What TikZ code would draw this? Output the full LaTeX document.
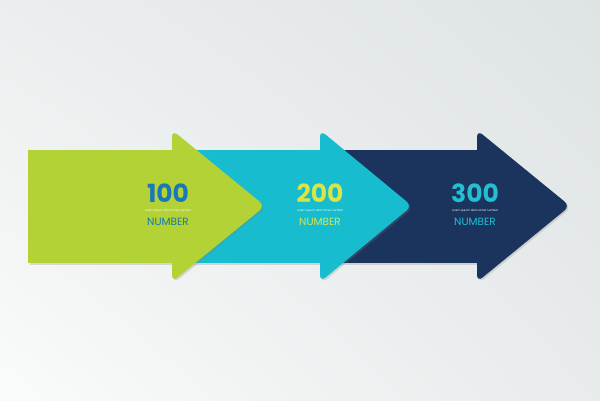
\documentclass[tikz,border=0pt]{standalone}
\usepackage{fontspec}
\setmainfont{Poppins}
\usetikzlibrary{shadows,shadings}

\definecolor{bgtop}{RGB}{222,227,227}
\definecolor{bgbot}{RGB}{250,251,251}
\definecolor{limegreen}{RGB}{178,210,53}
\definecolor{skycyan}{RGB}{23,188,207}
\definecolor{deepnavy}{RGB}{27,52,94}
\definecolor{numblue}{RGB}{26,120,185}
\definecolor{numlime}{RGB}{215,230,70}
\definecolor{numcyan}{RGB}{35,190,210}

\tikzset{
  arrowshape/.style={draw=none,drop shadow={shadow xshift=1.5pt,shadow yshift=-1.5pt,opacity=0.25}},
  bignum/.style={font=\fontsize{25}{25}\selectfont\bfseries,inner sep=0pt},
  smalltxt/.style={font=\fontsize{2.8}{3}\selectfont,text=white,inner sep=0pt},
  numlabel/.style={font=\fontsize{10.5}{11}\selectfont,inner sep=0pt}
}

\begin{document}
\begin{tikzpicture}[x=1pt,y=-1pt]

	% background
	\shade[upper left=bgtop!60!white,upper right=bgtop,lower left=bgbot,lower right=bgtop!70!white] (0,0) rectangle (600,400);
	\useasboundingbox (0,0) rectangle (600,400);

	% third arrow
	\path[arrowshape,fill=deepnavy] (330,150) rectangle (480,263);
	\path[arrowshape,fill=deepnavy,rounded corners=7pt] (477,206) -- (477,130) -- (570,206) -- (477,282) -- cycle;
	\node[bignum,text=numcyan] (num3) at (475,193) {300};
	\node[smalltxt] (sub3) at (475,211) {Lorem ipsum dolor amet number};
	\node[numlabel,text=numcyan] (lab3) at (475,222) {NUMBER};

	% second arrow
	\path[arrowshape,fill=skycyan] (180,150) rectangle (323,263);
	\path[arrowshape,fill=skycyan,rounded corners=7pt] (320,206) -- (320,130) -- (412,206) -- (320,282) -- cycle;
	\node[bignum,text=numlime] (num2) at (320,193) {200};
	\node[smalltxt] (sub2) at (320,211) {Lorem ipsum dolor amet number};
	\node[numlabel,text=numlime] (lab2) at (320,222) {NUMBER};

	% first arrow
	\path[arrowshape,fill=limegreen] (28,150) rectangle (175,263);
	\path[arrowshape,fill=limegreen,rounded corners=7pt] (172,206) -- (172,130) -- (265,206) -- (172,282) -- cycle;
	\node[bignum,text=numblue] (num1) at (168,193) {100};
	\node[smalltxt] (sub1) at (168,211) {Lorem ipsum dolor amet number};
	\node[numlabel,text=numblue!70!teal] (lab1) at (168,222) {NUMBER};

\end{tikzpicture}
\end{document}
